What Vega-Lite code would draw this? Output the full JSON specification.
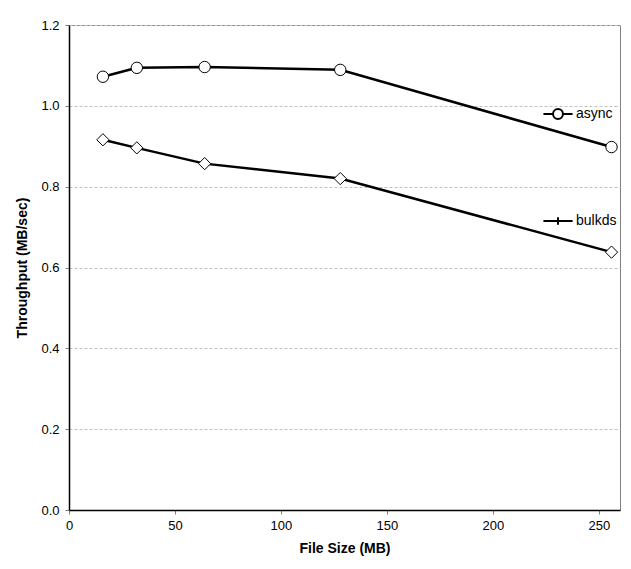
{
  "$schema": "https://vega.github.io/schema/vega-lite/v6.json",
  "width": 551,
  "height": 485,
  "autosize": "none",
  "padding": {"left": 69, "top": 25, "right": 11, "bottom": 59},
  "background": "white",
  "config": {
    "font": "Liberation Sans",
    "view": {"stroke": "#808080", "strokeWidth": 1},
    "axis": {
      "labelFont": "Liberation Sans",
      "titleFont": "Liberation Sans",
      "labelFontSize": 13,
      "titleFontSize": 14,
      "titleFontWeight": "bold",
      "labelColor": "black",
      "titleColor": "black",
      "domainColor": "black",
      "domainWidth": 1.5,
      "tickColor": "#808080",
      "tickSize": 4
    }
  },
  "data": {
    "values": [
      {"size": 16, "tp": 1.072, "series": "async"},
      {"size": 32, "tp": 1.094, "series": "async"},
      {"size": 64, "tp": 1.096, "series": "async"},
      {"size": 128, "tp": 1.089, "series": "async"},
      {"size": 256, "tp": 0.898, "series": "async"},
      {"size": 16, "tp": 0.916, "series": "bulkds"},
      {"size": 32, "tp": 0.896, "series": "bulkds"},
      {"size": 64, "tp": 0.857, "series": "bulkds"},
      {"size": 128, "tp": 0.820, "series": "bulkds"},
      {"size": 256, "tp": 0.638, "series": "bulkds"}
    ]
  },
  "encoding": {
    "x": {
      "field": "size", "type": "quantitative",
      "scale": {"domain": [0, 260], "nice": false, "zero": true},
      "axis": {"values": [0, 50, 100, 150, 200, 250], "grid": false, "title": "File Size (MB)", "labelPadding": 5, "titlePadding": 9, "labelFlush": false}
    },
    "y": {
      "field": "tp", "type": "quantitative",
      "scale": {"domain": [0, 1.2], "nice": false},
      "axis": {"values": [0, 0.2, 0.4, 0.6, 0.8, 1.0, 1.2], "format": ".1f", "grid": true, "gridDash": [3, 2], "gridColor": "#c0c0c0", "title": "Throughput (MB/sec)", "labelPadding": 6, "titlePadding": 11}
    }
  },
  "layer": [
    {
      "mark": {"type": "line", "color": "black", "strokeWidth": 2.5},
      "encoding": {"detail": {"field": "series"}}
    },
    {
      "mark": {"type": "point", "filled": true, "fill": "white", "stroke": "black", "strokeWidth": 1, "opacity": 1},
      "encoding": {
        "shape": {"field": "series", "type": "nominal", "scale": {"domain": ["async", "bulkds"], "range": ["circle", "diamond"]}, "legend": null},
        "size": {"field": "series", "type": "nominal", "scale": {"domain": ["async", "bulkds"], "range": [130, 150]}, "legend": null}
      }
    },
    {
      "mark": {"type": "point", "opacity": 0},
      "encoding": {
        "shape": {
          "field": "series", "type": "nominal",
          "scale": {"domain": ["async", "bulkds"], "range": [
            "M-1,0H-0.34M0.34,0H1M-0.34,0A0.34,0.34 0 1,0 0.34,0A0.34,0.34 0 1,0 -0.34,0Z",
            "M-1,0H1M0,-0.25V0.25"
          ]},
          "legend": {
            "title": null,
            "orient": "none",
            "legendX": 473,
            "legendY": 73,
            "symbolSize": 850,
            "symbolOpacity": 1,
            "symbolFillColor": "white",
            "symbolStrokeColor": "black",
            "symbolStrokeWidth": 2,
            "labelFontSize": 14,
            "labelFont": "Liberation Sans",
            "labelColor": "black",
            "labelOffset": 2,
            "rowPadding": 82
          }
        }
      }
    }
  ],
  "resolve": {"scale": {"shape": "independent", "size": "independent"}}
}
